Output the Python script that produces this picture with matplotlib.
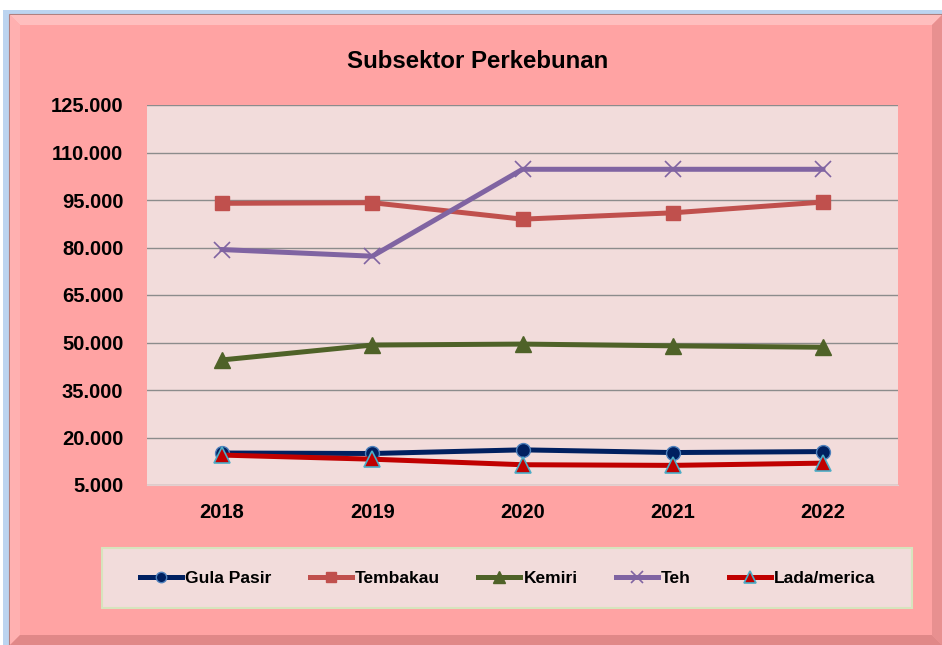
import matplotlib
matplotlib.use("Agg")
import matplotlib.pyplot as plt
from matplotlib.patches import Rectangle, Polygon
from matplotlib.ticker import FuncFormatter

plt.rcParams['font.family'] = ['Liberation Sans', 'DejaVu Sans']
plt.rcParams['font.weight'] = 'bold'

years = ['2018', '2019', '2020', '2021', '2022']
gula_pasir = [15100, 14950, 16100, 15250, 15550]
tembakau = [93950, 94150, 88950, 90950, 94350]
kemiri = [44500, 49200, 49500, 48950, 48500]
teh = [79350, 77250, 104700, 104700, 104700]
lada = [14450, 13150, 11400, 11200, 11900]
y_ticks = [5000, 20000, 35000, 50000, 65000, 80000, 95000, 110000, 125000]

W, H = 942, 645
fig = plt.figure(figsize=(W / 100, H / 100), dpi=100, facecolor='white')

def fx(px):
    return px / W

def fy(py):
    return 1 - py / H

# outer chart frame with bevel
fig.patches.append(Rectangle((fx(3), fy(645)), fx(942 - 3), fy(10) - fy(645),
                             transform=fig.transFigure, facecolor='#BCD4F0',
                             edgecolor='none', zorder=0))
fig.patches.append(Rectangle((fx(9), fy(645)), fx(942 - 9), fy(14) - fy(645),
                             transform=fig.transFigure, facecolor='#FFA3A3',
                             edgecolor='#B08080', lw=0.8, zorder=0.1))
bev = 10
x0, y0, x1, y1 = 10, 15, 942, 645
fig.patches.append(Polygon([(fx(x0), fy(y0)), (fx(x1), fy(y0)), (fx(x1 - bev), fy(y0 + bev)),
                            (fx(x0 + bev), fy(y0 + bev))], closed=True,
                           transform=fig.transFigure, facecolor='#FFBEBE', edgecolor='none', zorder=0.2))
fig.patches.append(Polygon([(fx(x0), fy(y0)), (fx(x0 + bev), fy(y0 + bev)), (fx(x0 + bev), fy(y1 - bev)),
                            (fx(x0), fy(y1))], closed=True,
                           transform=fig.transFigure, facecolor='#FFB0B0', edgecolor='none', zorder=0.2))
fig.patches.append(Polygon([(fx(x1), fy(y0)), (fx(x1), fy(y1)), (fx(x1 - bev), fy(y1 - bev)),
                            (fx(x1 - bev), fy(y0 + bev))], closed=True,
                           transform=fig.transFigure, facecolor='#E89090', edgecolor='none', zorder=0.2))
fig.patches.append(Polygon([(fx(x0), fy(y1)), (fx(x1), fy(y1)), (fx(x1 - bev), fy(y1 - bev)),
                            (fx(x0 + bev), fy(y1 - bev))], closed=True,
                           transform=fig.transFigure, facecolor='#E08888', edgecolor='none', zorder=0.2))

ax = fig.add_axes([fx(147), fy(485), fx(898 - 147), fy(105) - fy(485)])
ax.set_facecolor('#F2DCDB')
ax.set_zorder(1)

x = list(range(len(years)))
ax.plot(x, gula_pasir, color='#002060', lw=3.6, marker='o', ms=10,
        mfc='#002060', mec='#4F81BD', mew=1, label='Gula Pasir', zorder=3)
ax.plot(x, tembakau, color='#C0504D', lw=3.6, marker='s', ms=10,
        mfc='#C0504D', mec='#C0504D', label='Tembakau', zorder=3)
ax.plot(x, kemiri, color='#4F6228', lw=3.6, marker='^', ms=11,
        mfc='#4F6228', mec='#4F6228', label='Kemiri', zorder=3)
ax.plot(x, teh, color='#8064A2', lw=3.6, marker='x', ms=11,
        mec='#8064A2', mew=1.2, label='Teh', zorder=3)
ax.plot(x, lada, color='#C00000', lw=3.6, marker='^', ms=11,
        mfc='#C00000', mec='#4BACC6', mew=1.2, label='Lada/merica', zorder=3)

ax.set_xlim(-0.5, len(years) - 0.5)
ax.set_ylim(y_ticks[0], y_ticks[-1])
ax.set_yticks(y_ticks)
ax.set_xticks(x)
ax.set_xticklabels(years)
ax.yaxis.set_major_formatter(FuncFormatter(lambda v, p: f"{int(v):,}".replace(',', '.')))
ax.grid(axis='y', color='#8C8C8C', lw=1.0, zorder=1)
ax.set_axisbelow(True)
for s in ['left', 'right', 'top']:
    ax.spines[s].set_visible(False)
ax.spines['bottom'].set_color('#E3CFCF')
ax.tick_params(axis='both', length=0, labelsize=14.5)
ax.tick_params(axis='y', pad=17)
ax.tick_params(axis='x', pad=13)
for lab in ax.get_xticklabels() + ax.get_yticklabels():
    lab.set_fontweight('bold')

fig.text(fx(478), fy(62), 'Subsektor Perkebunan', ha='center', va='center',
         fontsize=17.3, fontweight='bold')

# legend box
fig.patches.append(Rectangle((fx(102), fy(608)), fx(912 - 102), fy(548) - fy(608),
                             transform=fig.transFigure, facecolor='#F2DCDB',
                             edgecolor='#D7E4BD', lw=1.5, zorder=0.5))
leg = fig.legend(loc='center', bbox_to_anchor=(fx(508), fy(578)), ncol=5,
                 frameon=False, fontsize=12.5, handlelength=2.4, handletextpad=0.2,
                 columnspacing=2.2, markerscale=0.75)
for t in leg.get_texts():
    t.set_fontweight('bold')

fig.savefig('out.png', dpi=100, facecolor=fig.get_facecolor())
